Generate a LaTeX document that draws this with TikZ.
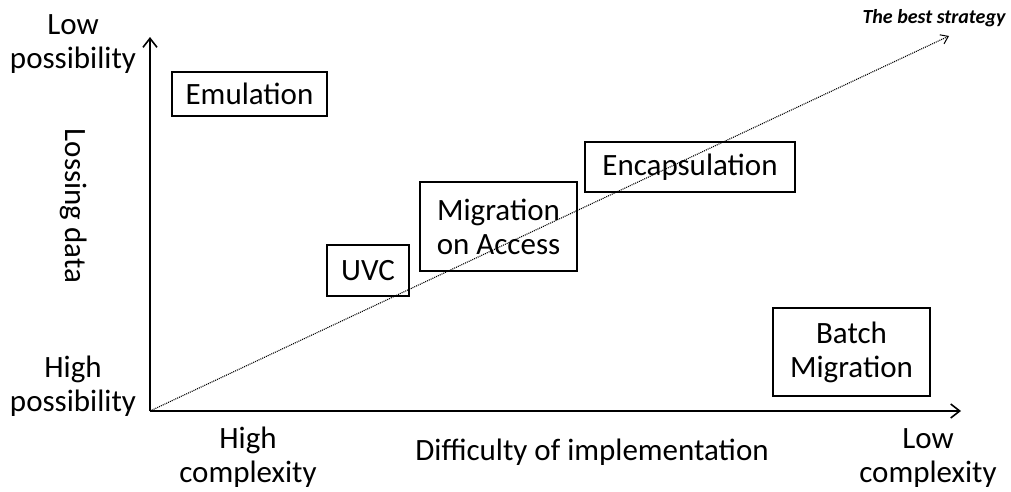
\documentclass[tikz,border=0pt]{standalone}
\usepackage{fontspec}
\setmainfont{Carlito}
\usetikzlibrary{arrows.meta}
\begin{document}
\begin{tikzpicture}[x=1pt,y=-1pt,
  lbl/.style={font=\fontsize{31}{34}\selectfont, align=center, inner sep=0pt},
  box/.style={draw, line width=1.3pt, font=\fontsize{31}{34}\selectfont, align=center, inner sep=0pt},
  axis/.style={line width=1.8pt, -{Straight Barb[length=9pt,width=14pt,line width=1.6pt]}},
  best/.style={line width=1.1pt, dash pattern=on 1pt off 1pt, -{Straight Barb[length=7pt,width=10pt,line width=1pt,line cap=butt]}}]
\useasboundingbox (0,0) rectangle (1011,491);
\coordinate (O) at (150,411);
\coordinate (Ytip) at (150,37);
\coordinate (Xtip) at (961,411);
\coordinate (Btip) at (949,36);
\draw[axis] (O) -- (Ytip);
\draw[axis] (O) -- (Xtip);
\draw[best] (O) -- (Btip);
\node[box, minimum width=155pt, minimum height=44pt] (emu) at (249.5,94) {Emulation};
\node[box, minimum width=210pt, minimum height=50pt] (enc) at (690,167) {Encapsulation};
\node[box, minimum width=157pt, minimum height=89pt] (moa) at (498.5,226.5) {Migration\\on Access};
\node[box, minimum width=82pt, minimum height=51pt] (uvc) at (368,270.5) {UVC};
\node[box, minimum width=157pt, minimum height=88pt] (bm) at (851.5,352) {Batch\\Migration};
\node[lbl] (lowp) at (73,44) {Low\\possibility};
\node[lbl] (highp) at (73,386) {High\\possibility};
\node[lbl, rotate=-90] (loss) at (74,206) {Lossing data};
\node[lbl] (highc) at (248,457) {High\\complexity};
\node[lbl] (lowc) at (928,458) {Low\\complexity};
\node[lbl] (diff) at (592,452) {Difficulty of implementation};
\node[font=\fontsize{20}{22}\selectfont\bfseries\itshape, inner sep=0pt] (best) at (934,18) {The best strategy};
\end{tikzpicture}
\end{document}
